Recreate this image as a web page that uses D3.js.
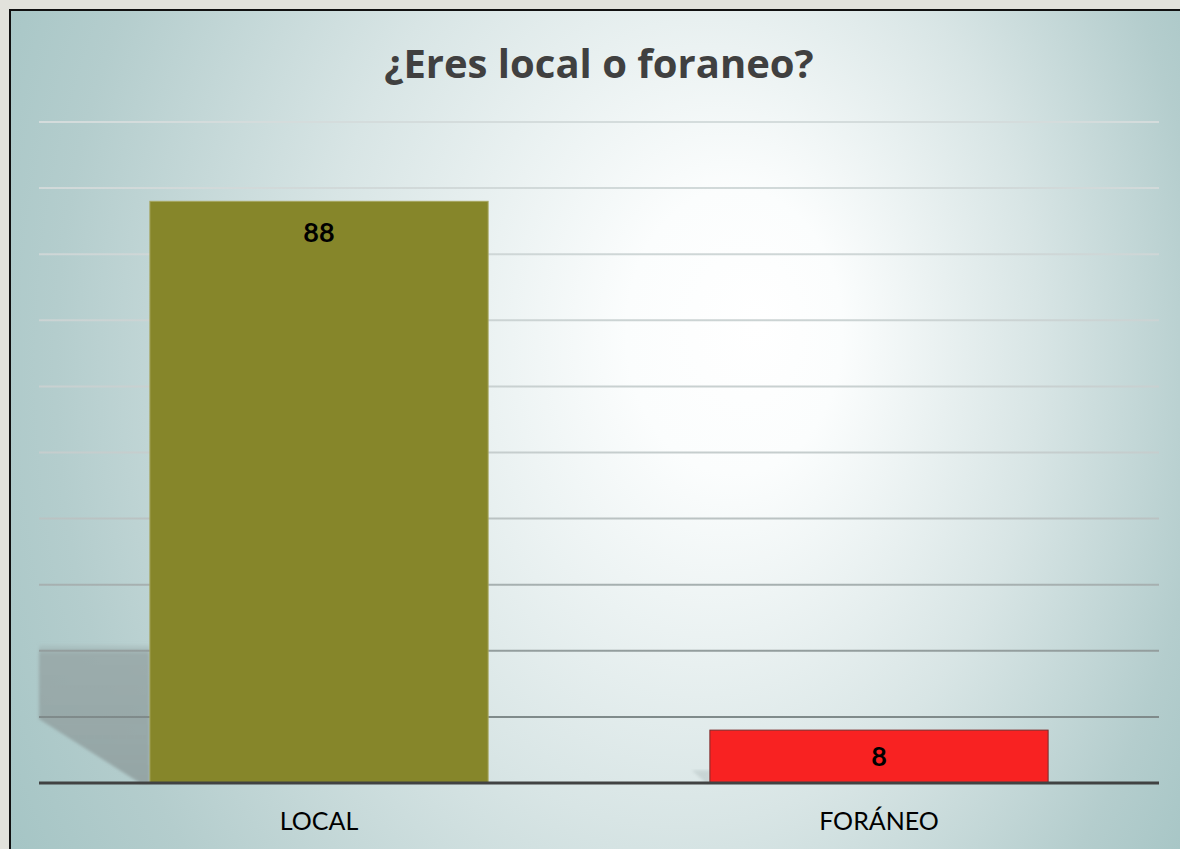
<!DOCTYPE html>
<html>
<head>
<meta charset="utf-8">
<script src="https://cdn.jsdelivr.net/npm/d3@7"></script>
<style>
  html, body { margin: 0; padding: 0; background: #e2e2dc; }
  svg { display: block; }
</style>
</head>
<body>
<svg width="1180" height="849"></svg>
<script>
// Chart data
var title = '¿Eres local o foraneo?';
var categories = ['LOCAL', 'FORÁNEO'];
var values = [88, 8];
var barColors = ['#86862a', '#f82222'];
var barStrokes = ['#a6a660', '#7a2a2a'];
var gridTicks = [10, 20, 30, 40, 50, 60, 70, 80, 90, 100];

var svg = d3.select('svg');
var W = 1180, H = 849;

// Plot area
var plot = { left: 39, right: 1159, top: 122, bottom: 783 };

var x = d3.scaleBand()
  .domain(categories)
  .range([plot.left, plot.right])
  .paddingInner(0.396)
  .paddingOuter(0.198);

var y = d3.scaleLinear()
  .domain([0, 100])
  .range([plot.bottom, plot.top]);

var defs = svg.append('defs');

// Background radial gradient (white glow, teal edges)
var bg = defs.append('radialGradient')
  .attr('id', 'bg')
  .attr('gradientUnits', 'userSpaceOnUse')
  .attr('cx', 0).attr('cy', 0).attr('r', 1)
  .attr('fx', 0.22).attr('fy', -0.06)
  .attr('gradientTransform', 'translate(600,380) scale(720,950)');
bg.append('stop').attr('offset', 0).attr('stop-color', '#ffffff');
bg.append('stop').attr('offset', 0.15).attr('stop-color', '#fbfdfd');
bg.append('stop').attr('offset', 0.5).attr('stop-color', '#d8e5e5');
bg.append('stop').attr('offset', 0.8).attr('stop-color', '#b4cdcd');
bg.append('stop').attr('offset', 1).attr('stop-color', '#a2c3c3');

// Gridline colour: light near the top, darker near the bottom
var gg = defs.append('linearGradient')
  .attr('id', 'grid')
  .attr('gradientUnits', 'userSpaceOnUse')
  .attr('x1', 0).attr('x2', 0)
  .attr('y1', plot.top).attr('y2', plot.bottom);
gg.append('stop').attr('offset', 0).attr('stop-color', '#d4dcdc');
gg.append('stop').attr('offset', 0.55).attr('stop-color', '#c4cccc');
gg.append('stop').attr('offset', 1).attr('stop-color', '#6c7878');

var sg = defs.append('linearGradient')
  .attr('id', 'shadow')
  .attr('x1', 0).attr('x2', 0).attr('y1', 0).attr('y2', 1);
sg.append('stop').attr('offset', 0).attr('stop-color', '#9aaaaa').attr('stop-opacity', 0);
sg.append('stop').attr('offset', 0.08).attr('stop-color', '#98a8a8').attr('stop-opacity', 0.9);
sg.append('stop').attr('offset', 1).attr('stop-color', '#93a3a3').attr('stop-opacity', 0.95);

defs.append('filter').attr('id', 'blur')
  .append('feGaussianBlur').attr('stdDeviation', 1.5);

// Frame
svg.append('rect')
  .attr('x', 10).attr('y', 10)
  .attr('width', W).attr('height', H)
  .attr('fill', 'url(#bg)')
  .attr('stroke', '#111')
  .attr('stroke-width', 2);

// Shadow cast by the first bar
var b0 = x(categories[0]);
var sTop = y(values[0] * 0.24);
svg.append('path')
  .attr('d', d3.line()([
    [plot.left, sTop],
    [b0, sTop],
    [b0, y(0)],
    [b0 - 10, y(0)],
    [plot.left, y(10) + 2]
  ]) + 'Z')
  .attr('fill', 'url(#shadow)')
  .attr('filter', 'url(#blur)');

// Faint shadow next to the second bar
var b1 = x(categories[1]);
svg.append('path')
  .attr('d', d3.line()([
    [b1 - 18, y(values[1] * 0.24)],
    [b1, y(values[1] * 0.24)],
    [b1, y(0)],
    [b1 - 4, y(0)]
  ]) + 'Z')
  .attr('fill', '#9aa8a8')
  .attr('opacity', 0.3)
  .attr('filter', 'url(#blur)');

// Gridlines
svg.append('g')
  .selectAll('line')
  .data(gridTicks)
  .join('line')
  .attr('x1', plot.left)
  .attr('x2', plot.right)
  .attr('y1', function (d) { return y(d); })
  .attr('y2', function (d) { return y(d); })
  .attr('stroke', 'url(#grid)')
  .attr('stroke-width', 2);

// Bars
svg.append('g')
  .selectAll('rect')
  .data(values)
  .join('rect')
  .attr('x', function (d, i) { return x(categories[i]); })
  .attr('y', function (d) { return y(d); })
  .attr('width', x.bandwidth())
  .attr('height', function (d) { return y(0) - y(d); })
  .attr('fill', function (d, i) { return barColors[i]; })
  .attr('stroke', function (d, i) { return barStrokes[i]; })
  .attr('stroke-width', 1);

// Baseline
svg.append('line')
  .attr('x1', plot.left).attr('x2', plot.right)
  .attr('y1', y(0)).attr('y2', y(0))
  .attr('stroke', '#414242')
  .attr('stroke-width', 3);

// Value labels (inside end; centred when the bar is short)
svg.append('g')
  .selectAll('text')
  .data(values)
  .join('text')
  .attr('x', function (d, i) { return x(categories[i]) + x.bandwidth() / 2; })
  .attr('y', function (d) { return Math.min(y(d) + 41, (y(d) + y(0)) / 2 + 9); })
  .attr('text-anchor', 'middle')
  .attr('font-family', 'Lato, "Open Sans", sans-serif')
  .attr('font-weight', 'bold')
  .attr('font-size', 27)
  .attr('fill', '#000')
  .text(function (d) { return d; });

// Category axis
var xAxis = d3.axisBottom(x).tickSize(0).tickPadding(0);
var ax = svg.append('g')
  .attr('transform', 'translate(0,' + y(0) + ')')
  .call(xAxis);
ax.select('.domain').remove();
ax.selectAll('text')
  .attr('dy', 0)
  .attr('y', 47)
  .attr('font-family', 'Lato, "Open Sans", sans-serif')
  .attr('font-size', 25)
  .attr('fill', '#000');

// Title
svg.append('text')
  .attr('x', 599)
  .attr('y', 78)
  .attr('text-anchor', 'middle')
  .attr('font-family', '"Open Sans", Lato, sans-serif')
  .attr('font-weight', 'bold')
  .attr('font-size', 40)
  .attr('fill', '#404040')
  .text(title);
</script>
</body>
</html>
